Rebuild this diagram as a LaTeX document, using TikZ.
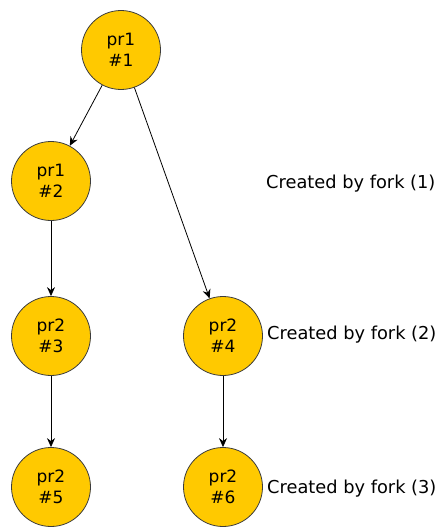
\documentclass[tikz,border=0pt]{standalone}
\usepackage{fontspec}
\setmainfont{DejaVu Sans}
\usetikzlibrary{arrows.meta}
\definecolor{procfill}{RGB}{255,201,0}
\definecolor{procline}{RGB}{60,60,60}
\tikzset{
  proc/.style={circle, draw=procline, line width=0.8pt, fill=procfill, minimum size=79pt, inner sep=0pt, align=center, font=\fontsize{17}{21}\selectfont},
  lbl/.style={anchor=west, inner sep=0pt, font=\fontsize{17.8}{21}\selectfont},
  conn/.style={-{Stealth[length=9pt,width=8pt,inset=3pt]}, line width=0.8pt, black}
}
\begin{document}
\begin{tikzpicture}[x=1pt,y=-1pt]
\useasboundingbox (0,0) rectangle (441,527);
\node[proc] (n1) at (121,50) {pr1\\\#1};
\node[proc] (n2) at (51,181) {pr1\\\#2};
\node[proc] (n3) at (51,336) {pr2\\\#3};
\node[proc] (n4) at (223,336) {pr2\\\#4};
\node[proc] (n5) at (51,487) {pr2\\\#5};
\node[proc] (n6) at (223,487) {pr2\\\#6};
\node[lbl] (l1) at (266,184) {Created by fork (1)};
\node[lbl] (l2) at (267,335) {Created by fork (2)};
\node[lbl] (l3) at (267,489) {Created by fork (3)};
\draw[conn] (n1) -- (n2);
\draw[conn] (n1) -- (n4);
\draw[conn] (n2) -- (n3);
\draw[conn] (n3) -- (n5);
\draw[conn] (n4) -- (n6);
\end{tikzpicture}
\end{document}
